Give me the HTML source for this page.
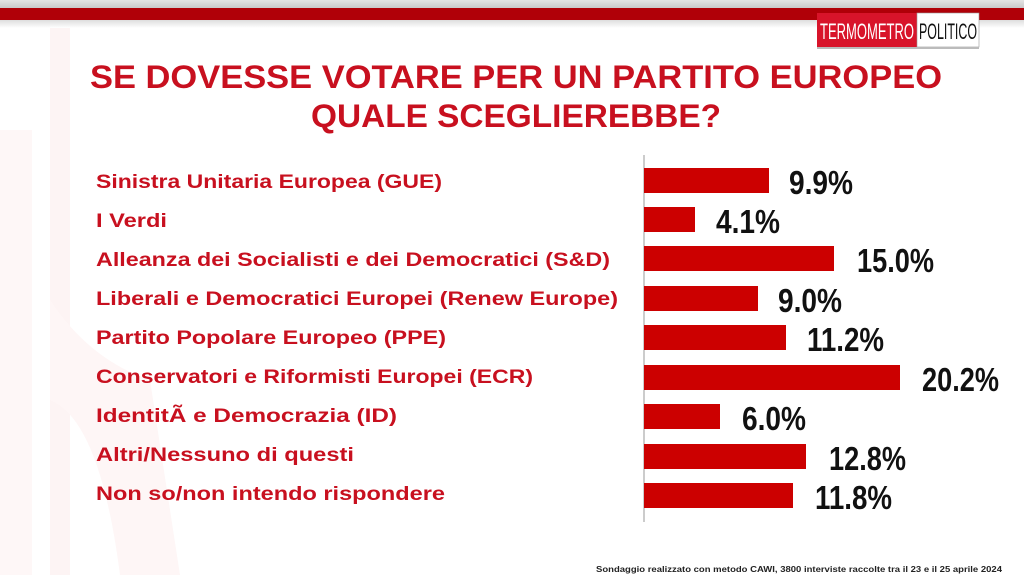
<!DOCTYPE html>
<html><head><meta charset="utf-8"><style>
html,body{margin:0;padding:0;background:#fff;}
svg{display:block}
</style></head><body>
<svg width="1024" height="575" viewBox="0 0 1024 575" xmlns="http://www.w3.org/2000/svg">
<defs>
<linearGradient id="top" x1="0" y1="0" x2="0" y2="1"><stop offset="0" stop-color="#e4e4e4"/><stop offset="1" stop-color="#c9c9c9"/></linearGradient>
<linearGradient id="sh" x1="0" y1="0" x2="0" y2="1"><stop offset="0" stop-color="#ddd"/><stop offset="1" stop-color="#fff"/></linearGradient>
</defs>
<rect width="1024" height="575" fill="#fff"/>
<rect x="50" y="0" width="20" height="575" fill="#fdf4f4"/>
<rect x="0" y="130" width="32" height="445" fill="#fef7f7"/>
<path d="M50 300 Q90 360 150 380 L180 575 L120 575 Q100 420 50 400Z" fill="#fef6f6"/>
<rect x="0" y="0" width="1024" height="8" fill="url(#top)"/>
<rect x="0" y="8" width="1024" height="12" fill="#b00008"/>
<rect x="0" y="20" width="1024" height="8" fill="url(#sh)"/>
<rect x="817" y="13" width="100" height="34" fill="#d8142a"/>
<rect x="917" y="13" width="62" height="34" fill="#fff" stroke="#999" stroke-width="0.6"/>
<rect x="817" y="47" width="162" height="2" fill="#bbb"/>
<text x="820" y="39" font-family="Liberation Sans, sans-serif" font-size="22" fill="#fff" textLength="94" lengthAdjust="spacingAndGlyphs">TERMOMETRO</text>
<text x="919" y="39" font-family="Liberation Sans, sans-serif" font-size="22" fill="#111" textLength="58" lengthAdjust="spacingAndGlyphs">POLITICO</text>
<g font-family="Liberation Sans, sans-serif" font-weight="bold" fill="#c8101f" font-size="32">
<text x="90" y="88" textLength="852" lengthAdjust="spacingAndGlyphs">SE DOVESSE VOTARE PER UN PARTITO EUROPEO</text>
<text x="311" y="127" textLength="410" lengthAdjust="spacingAndGlyphs">QUALE SCEGLIEREBBE?</text>
</g>
<g font-family="Liberation Sans, sans-serif" font-weight="bold" fill="#c8101f" font-size="19.5">
<text x="96" y="188" textLength="346" lengthAdjust="spacingAndGlyphs">Sinistra Unitaria Europea (GUE)</text>
<text x="96" y="227" textLength="71" lengthAdjust="spacingAndGlyphs">I Verdi</text>
<text x="96" y="266" textLength="514" lengthAdjust="spacingAndGlyphs">Alleanza dei Socialisti e dei Democratici (S&amp;D)</text>
<text x="96" y="305" textLength="522" lengthAdjust="spacingAndGlyphs">Liberali e Democratici Europei (Renew Europe)</text>
<text x="96" y="344" textLength="350" lengthAdjust="spacingAndGlyphs">Partito Popolare Europeo (PPE)</text>
<text x="96" y="383" textLength="437" lengthAdjust="spacingAndGlyphs">Conservatori e Riformisti Europei (ECR)</text>
<text x="96" y="422" textLength="301" lengthAdjust="spacingAndGlyphs">IdentitÃ  e Democrazia (ID)</text>
<text x="96" y="461" textLength="258" lengthAdjust="spacingAndGlyphs">Altri/Nessuno di questi</text>
<text x="96" y="500" textLength="349" lengthAdjust="spacingAndGlyphs">Non so/non intendo rispondere</text>
</g>
<line x1="644" y1="155" x2="644" y2="522" stroke="#999" stroke-width="1"/>
<g fill="#cc0000">
<rect x="644" y="168" width="125" height="25"/>
<rect x="644" y="207" width="51" height="25"/>
<rect x="644" y="246" width="190" height="25"/>
<rect x="644" y="286" width="114" height="25"/>
<rect x="644" y="325" width="142" height="25"/>
<rect x="644" y="365" width="256" height="25"/>
<rect x="644" y="404" width="76" height="25"/>
<rect x="644" y="444" width="162" height="25"/>
<rect x="644" y="483" width="149" height="25"/>
</g>
<g font-family="Liberation Sans, sans-serif" font-weight="bold" fill="#111" font-size="33">
<text x="789" y="194" textLength="64" lengthAdjust="spacingAndGlyphs">9.9%</text>
<text x="716" y="233" textLength="64" lengthAdjust="spacingAndGlyphs">4.1%</text>
<text x="857" y="272" textLength="77" lengthAdjust="spacingAndGlyphs">15.0%</text>
<text x="778" y="312" textLength="64" lengthAdjust="spacingAndGlyphs">9.0%</text>
<text x="807" y="351" textLength="77" lengthAdjust="spacingAndGlyphs">11.2%</text>
<text x="922" y="391" textLength="77" lengthAdjust="spacingAndGlyphs">20.2%</text>
<text x="742" y="430" textLength="64" lengthAdjust="spacingAndGlyphs">6.0%</text>
<text x="829" y="470" textLength="77" lengthAdjust="spacingAndGlyphs">12.8%</text>
<text x="815" y="509" textLength="77" lengthAdjust="spacingAndGlyphs">11.8%</text>
</g>
<text x="596" y="572" font-family="Liberation Sans, sans-serif" font-weight="bold" font-size="8.5" fill="#222" textLength="406" lengthAdjust="spacingAndGlyphs">Sondaggio realizzato con metodo CAWI, 3800 interviste raccolte tra il 23 e il 25 aprile 2024</text>
</svg>
</body></html>
